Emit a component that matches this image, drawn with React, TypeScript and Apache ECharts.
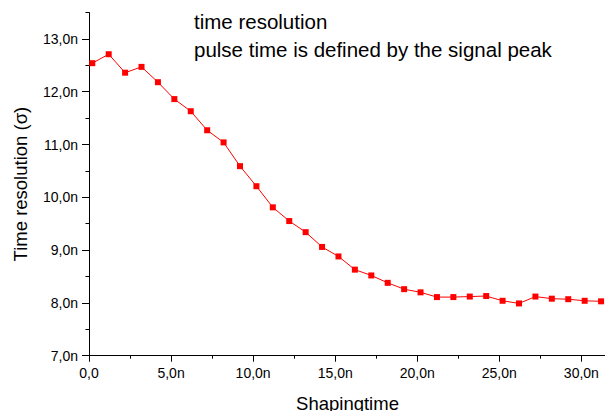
import React, { useEffect, useRef } from "react";
import * as echarts from "echarts";

const shapingTimes = [0.2, 1.2, 2.2, 3.2, 4.2, 5.2, 6.2, 7.2, 8.2, 9.2, 10.2, 11.2, 12.2, 13.2, 14.2, 15.2, 16.2, 17.2, 18.2, 19.2, 20.2, 21.2, 22.2, 23.2, 24.2, 25.2, 26.2, 27.2, 28.2, 29.2, 30.2, 31.2];
const resolutions = [12.54, 12.71, 12.36, 12.47, 12.18, 11.86, 11.63, 11.27, 11.04, 10.59, 10.21, 9.81, 9.55, 9.34, 9.06, 8.88, 8.63, 8.52, 8.38, 8.26, 8.2, 8.11, 8.11, 8.12, 8.13, 8.04, 7.99, 8.12, 8.08, 8.07, 8.04, 8.03];

const xMajorTicks = [0, 5, 10, 15, 20, 25, 30];
const xMinorTicks = [2.5, 7.5, 12.5, 17.5, 22.5, 27.5];
const yMajorTicks = [7, 8, 9, 10, 11, 12, 13];
const yMinorTicks = [7.5, 8.5, 9.5, 10.5, 11.5, 12.5, 13.5];

const annotationLines = ["time resolution", "pulse time is defined by the signal peak"];

const FONT = "'Liberation Sans', Arial, Helvetica, sans-serif";

const fmtX = (v: number) => (v === 0 ? "0,0" : v.toFixed(1).replace(".", ",") + "n");
const fmtY = (v: number) => v.toFixed(1).replace(".", ",") + "n";

export default function App() {
  const ref = useRef<HTMLDivElement>(null);
  useEffect(() => {
    if (!ref.current) return;
    const chart = echarts.init(ref.current, null, { renderer: "svg" });
    const axisLine = { show: true, lineStyle: { color: "#000", width: 1 } };
    chart.setOption({
      animation: false,
      backgroundColor: "#fff",
      textStyle: { fontFamily: FONT },
      grid: { left: 89, top: 12.5, width: 517, bottom: 55.3, containLabel: false, outerBoundsMode: "none" },
      xAxis: [
        {
          type: "value",
          min: 0,
          max: 31.5,
          position: "bottom",
          axisLine,
          axisTick: { show: true, inside: false, length: 6, customValues: xMajorTicks, lineStyle: { color: "#000" } },
          axisLabel: { customValues: xMajorTicks, formatter: fmtX, color: "#000", fontSize: 14, margin: 10, fontFamily: FONT },
          splitLine: { show: false },
          name: "Shapingtime",
          nameLocation: "middle",
          nameGap: 38,
          nameTextStyle: { fontSize: 18.5, color: "#000", fontFamily: FONT },
        },
        {
          type: "value",
          min: 0,
          max: 31.5,
          position: "bottom",
          offset: 0,
          axisLine: { show: false },
          axisTick: { show: true, length: 3, customValues: xMinorTicks, lineStyle: { color: "#000" } },
          axisLabel: { show: false },
          splitLine: { show: false },
        },
      ],
      yAxis: [
        {
          type: "value",
          min: 7,
          max: 13.5,
          position: "left",
          axisLine,
          axisTick: { show: true, length: 7, customValues: yMajorTicks, lineStyle: { color: "#000" } },
          axisLabel: { customValues: yMajorTicks, formatter: fmtY, color: "#000", fontSize: 14, margin: 11, fontFamily: FONT },
          splitLine: { show: false },
          name: "Time resolution (\u03c3)",
          nameLocation: "middle",
          nameGap: 59,
          nameTextStyle: { fontSize: 18.5, color: "#000", fontFamily: FONT },
        },
        {
          type: "value",
          min: 7,
          max: 13.5,
          position: "left",
          offset: 0,
          axisLine: { show: false },
          axisTick: { show: true, length: 3.5, customValues: yMinorTicks, lineStyle: { color: "#000" } },
          axisLabel: { show: false },
          splitLine: { show: false },
        },
      ],
      graphic: annotationLines.map((t, i) => ({
        type: "text",
        left: 194,
        top: 11 + i * 28,
        style: { text: t, fontSize: 20.5, fill: "#000", fontFamily: FONT },
      })),
      series: [
        {
          type: "line",
          xAxisIndex: 0,
          yAxisIndex: 0,
          data: shapingTimes.map((x, i) => [x, resolutions[i]]),
          symbol: "rect",
          symbolSize: 6,
          itemStyle: { color: "#ff0000" },
          lineStyle: { color: "#ff0000", width: 1 },
        },
      ],
    });
    return () => chart.dispose();
  }, []);
  return <div ref={ref} style={{ position: "fixed", left: 0, top: 0, width: 605, height: 411 }} />;
}
